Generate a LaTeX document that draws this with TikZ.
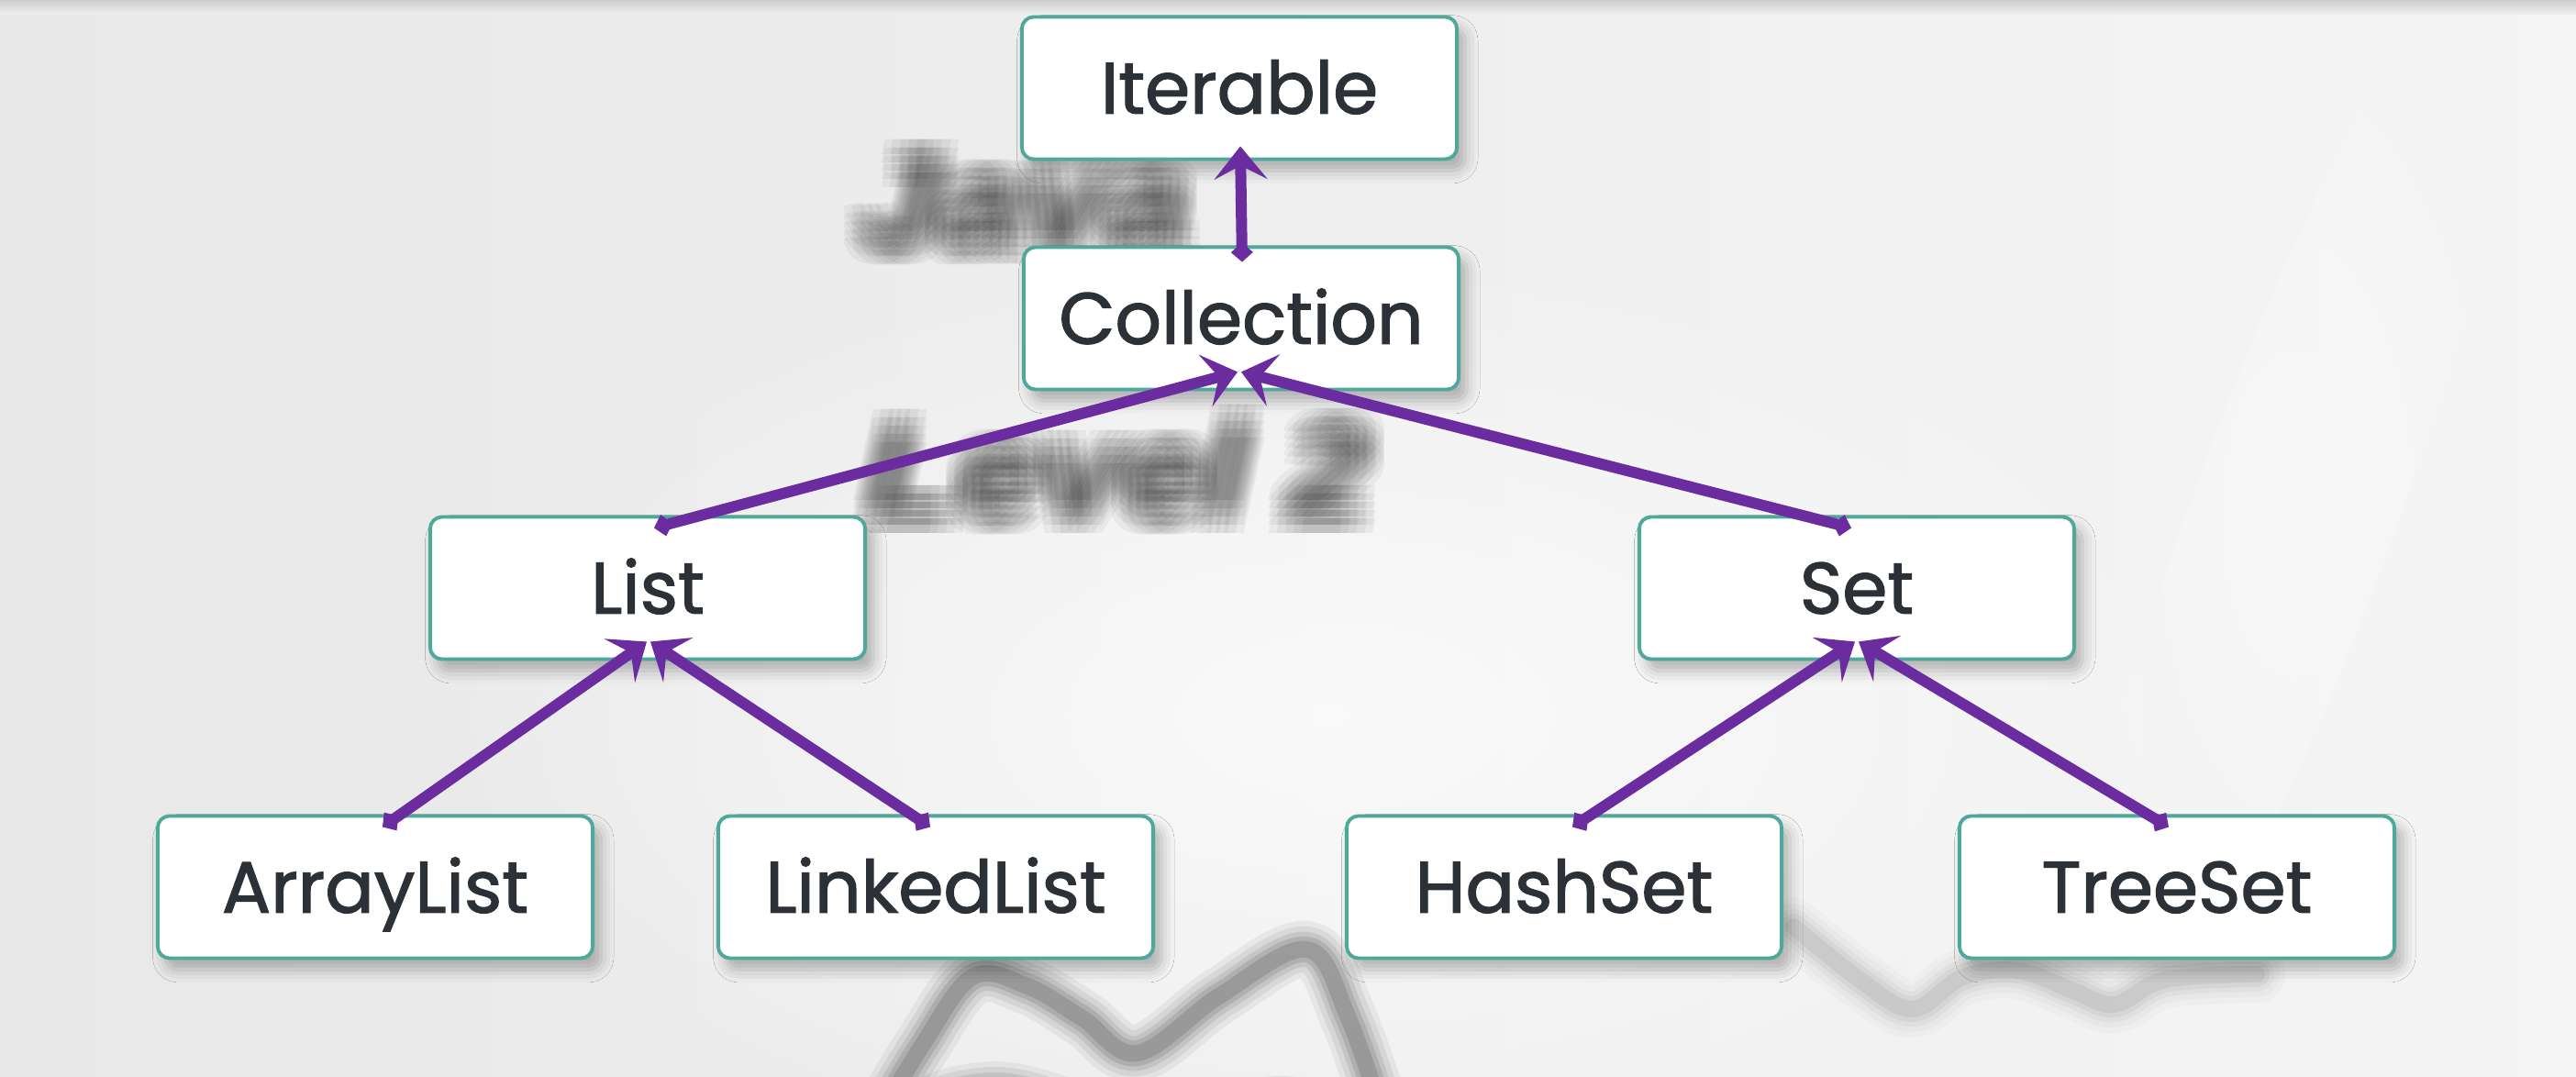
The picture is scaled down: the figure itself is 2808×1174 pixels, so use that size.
\documentclass[tikz,border=0pt]{standalone}
\usepackage{fontspec}
\setmainfont{Poppins}[FakeBold=1.6]
\newfontfamily\blurfont{Liberation Sans}
\usetikzlibrary{arrows.meta,calc,shadows.blur,fadings}
\definecolor{boxborder}{HTML}{4EA89B}
\definecolor{purp}{HTML}{6B2C9F}
\definecolor{txt}{HTML}{2C3037}
\definecolor{smudge}{HTML}{454545}
\tikzfading[name=softout, inner color=transparent!0, outer color=transparent!100]
\begin{document}
\begin{tikzpicture}[x=0.01cm,y=-0.01cm,
  box/.style={draw=boxborder, line width=1.1pt, fill=white, rounded corners=0.13cm,
    minimum width=4.74cm, minimum height=1.55cm, inner sep=0pt, text=txt,
    font=\fontsize{22.5}{24}\selectfont, text height=15.8pt, text depth=0pt,
    blur shadow={shadow xshift=2.5pt, shadow yshift=-3.5pt, shadow blur radius=4pt, shadow opacity=28}},
  conn/.style={draw=purp, line width=0.12cm,
    {Diamond[length=0.21cm,width=0.24cm]}-{Stealth[length=0.36cm,width=0.58cm,inset=0.15cm]}},
  blurtxt/.style={text=black!78, opacity=0.06, inner sep=0pt,
    font=\blurfont\bfseries\itshape\fontsize{41}{41}\selectfont, xscale=1.12, transform shape}
]
% background
\useasboundingbox (0,0) rectangle (2808,1174);
\shade[left color=black!9, right color=black!4] (0,0) rectangle (2808,1174);
\fill[white, path fading=softout, fill opacity=0.7] (1450,780) ellipse [x radius=1000, y radius=520];
\begin{scope}[shift={(2500,560)}, rotate=-20]
  \fill[white, path fading=softout, fill opacity=0.35] (0,0) ellipse [x radius=110, y radius=650];
\end{scope}
\shade[top color=black!20, bottom color=black!6] (0,0) rectangle (2808,16);

% blurred background text
\foreach \dx [count=\i] in {-18,-9,0,9,18}{
  \foreach \dy [count=\j] in {-18,-9,0,9,18}{
    \node[blurtxt, anchor=base west] (javaA\i\j) at (935+\dx,270+\dy) {Java};
    \node[blurtxt, anchor=base west] (levelA\i\j) at (945+\dx,564+\dy) {Level 2};
  }
}

% blurred background drawing
\foreach \w/\o in {62/0.07,50/0.09,38/0.12,28/0.16,18/0.2}{
  \draw[smudge, line width=\w*0.1mm, opacity=\o, line cap=round, line join=round]
    plot[smooth, tension=0.6] coordinates {(945,1240) (1005,1140) (1060,1065) (1120,1075) (1180,1110) (1240,1148) (1330,1085) (1425,1035) (1470,1110) (1515,1240)};
  \draw[smudge, line width=\w*0.1mm, opacity=\o, line cap=round, line join=round]
    plot[smooth, tension=0.6] coordinates {(960,1250) (1010,1205) (1085,1188) (1160,1205) (1230,1232)};
  \draw[smudge, line width=\w*0.1mm, opacity=\o, line cap=round, line join=round]
    plot[smooth, tension=0.6] coordinates {(1270,1245) (1330,1215) (1410,1205) (1480,1235)};
  \draw[smudge, line width=\w*0.1mm, opacity=0.4*\o, line cap=round, line join=round]
    plot[smooth, tension=0.6] coordinates {(1955,1010) (2030,1070) (2085,1100) (2140,1065) (2200,1058) (2260,1080) (2305,1095) (2360,1068) (2460,1062)};
}

% nodes
\node[box] (it) at (1351,96) {Iterable};
\node[box] (co) at (1353,347) {Collection};
\node[box] (li) at (706,641) {List};
\node[box] (se) at (2024,641) {Set};
\node[box] (al) at (409,967) {ArrayList};
\node[box] (ll) at (1020,967) {LinkedList};
\node[box] (hs) at (1705,967) {HashSet};
\node[box] (ts) at (2373,967) {TreeSet};

% connectors
\draw[conn] ($(co.north)+(1,18)$) -- ($(it.south)+(1,-16)$);
\draw[conn] ($(li.north)+(7,14)$) -- ($(co.south)+(-4,-21)$);
\draw[conn] ($(se.north)+(-6,14)$) -- ($(co.south)+(0,-21)$);
\draw[conn] ($(al.north)+(8,14)$) -- ($(li.south)+(-1,-21)$);
\draw[conn] ($(ll.north)+(-6,14)$) -- ($(li.south)+(3,-21)$);
\draw[conn] ($(hs.north)+(9,14)$) -- ($(se.south)+(-2,-21)$);
\draw[conn] ($(ts.north)+(-9,14)$) -- ($(se.south)+(2,-21)$);
\end{tikzpicture}
\end{document}
